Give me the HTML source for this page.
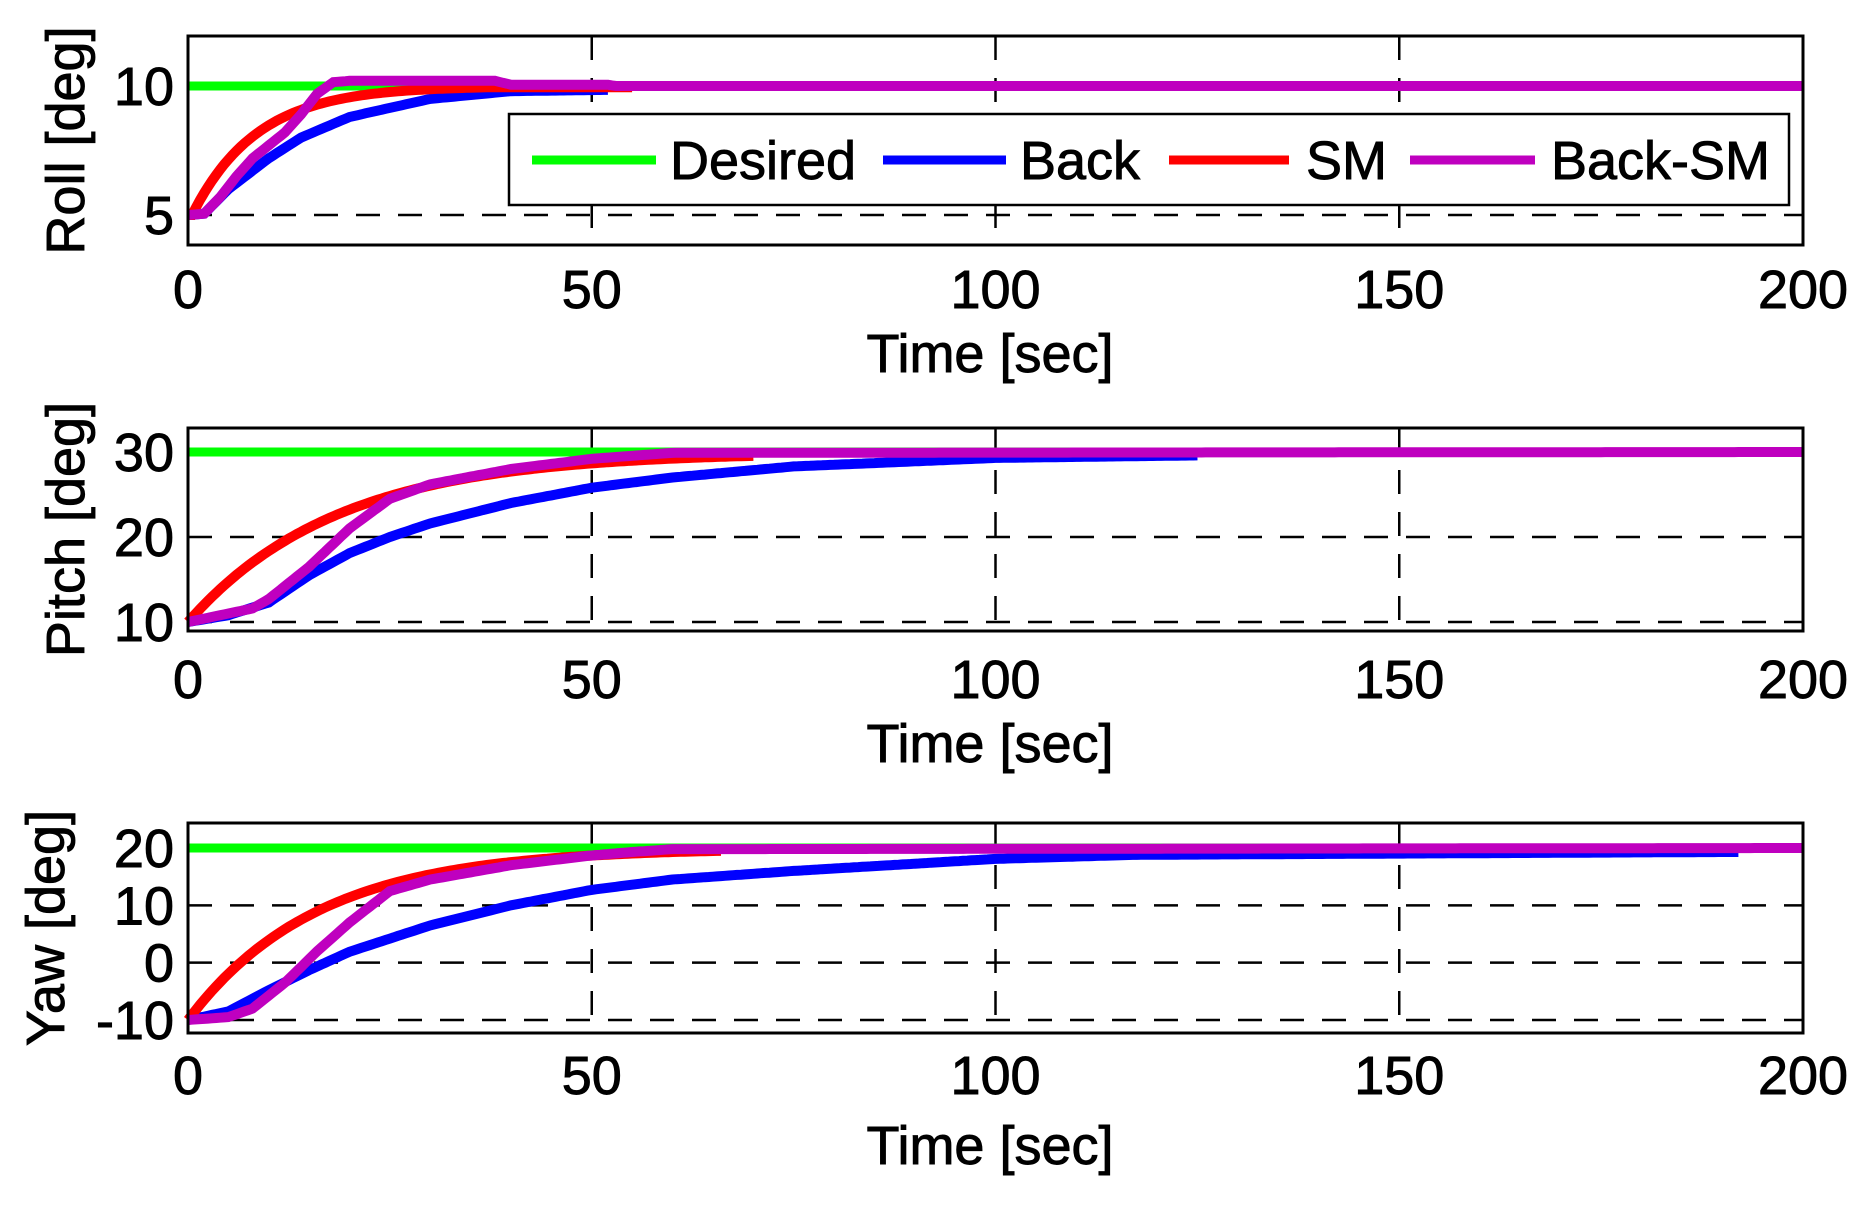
<!DOCTYPE html>
<html><head><meta charset="utf-8"><style>
html,body{margin:0;padding:0;background:#fff;}
svg{display:block;}
text{font-family:"Liberation Sans",Arial,sans-serif;fill:#000;stroke:#000;stroke-width:0.9px;}
</style></head><body>
<svg id="s" width="1866" height="1205" viewBox="0 0 1866 1205" xmlns="http://www.w3.org/2000/svg">
</svg>
<script>
const NS="http://www.w3.org/2000/svg";
const svg=document.getElementById('s');
function el(n,a,t){const e=document.createElementNS(NS,n);for(const k in a)e.setAttribute(k,a[k]);if(t!==undefined)e.textContent=t;svg.appendChild(e);return e;}
const L=188,R=1803;
const X=t=>L+(R-L)*t/200;
function interp(pts,t){for(let i=1;i<pts.length;i++){if(t<=pts[i][0]){const a=pts[i-1],b=pts[i];return a[1]+(b[1]-a[1])*(t-a[0])/(b[0]-a[0]);}}return pts[pts.length-1][1];}
function panel(o){
  const {top,bot,yt,ticks,ylabel,ylx,series,xtickY,xlabY}=o;
  const Y=v=>yt[0][1]+(yt[1][1]-yt[0][1])*(v-yt[0][0])/(yt[1][0]-yt[0][0]);
  ticks.forEach(v=>{const y=Y(v);el('line',{x1:L,x2:R,y1:y,y2:y,stroke:'#000','stroke-width':2.5,'stroke-dasharray':'24 18'});});
  [50,100,150].forEach(t=>el('line',{x1:X(t),x2:X(t),y1:top,y2:bot,stroke:'#000','stroke-width':2.5,'stroke-dasharray':'24 18'}));
  series.forEach(s=>{
    let d='';
    for(let t=0;t<=s.end;t+=0.5){const v=s.f(t);d+=(d?'L':'M')+X(t).toFixed(1)+' '+Y(v).toFixed(1);}
    el('path',{d:d,fill:'none',stroke:s.c,'stroke-width':s.w||10,'stroke-linejoin':'miter'});
  });
  el('rect',{x:L,y:top,width:R-L,height:bot-top,fill:'none',stroke:'#000','stroke-width':3});
  ticks.forEach(v=>el('text',{x:174,y:Y(v)+19,'font-size':54,'text-anchor':'end'},String(v)));
  [0,50,100,150,200].forEach(t=>el('text',{x:X(t),y:xtickY,'font-size':54,'text-anchor':'middle'},String(t)));
  el('text',{x:990,y:xlabY,'font-size':54,'text-anchor':'middle'},'Time [sec]');
  const cy=(top+bot)/2;
  el('text',{x:0,y:0,'font-size':54,'text-anchor':'middle',transform:`translate(${ylx},${cy}) rotate(-90)`},ylabel);
}
const ex=(a,b,tau,d)=>t=>t<(d||0)?a:b-(b-a)*Math.exp(-(t-(d||0))/tau);
panel({top:36,bot:245,yt:[[5,215],[10,86]],ticks:[5,10],ylabel:'Roll [deg]',ylx:84,xtickY:308,xlabY:372,
series:[
 {c:'#00ff00',w:9,end:200,f:t=>10},
 {c:'#0000ff',end:52,f:t=>interp([[0,5],[2,5.05],[5,6],[10,7.2],[14,8],[20,8.8],[30,9.5],[40,9.8],[52,9.85]],t)},
 {c:'#ff0000',end:55,f:t=>Math.min(9.95,ex(5,10,8,0.5)(t))},
 {c:'#bf00bf',end:200,f:t=>interp([[0,5],[2,5.05],[4,5.7],[6,6.5],[8,7.2],[10,7.7],[12,8.2],[14,8.9],[16,9.7],[18,10.15],[20,10.2],[38,10.2],[40,10.05],[52,10.05],[53,10],[200,10]],t)}
]});
panel({top:428,bot:631,yt:[[10,622],[30,452]],ticks:[10,20,30],ylabel:'Pitch [deg]',ylx:84,xtickY:698,xlabY:762,
series:[
 {c:'#00ff00',w:9,end:200,f:t=>30},
 {c:'#0000ff',end:125,f:t=>interp([[0,10],[5,10.8],[10,12.3],[15,15.5],[20,18.1],[25,20],[30,21.6],[40,24],[50,25.8],[60,27],[75,28.3],[100,29.3],[125,29.6]],t)},
 {c:'#ff0000',end:70,f:t=>Math.min(29.8,ex(10,30,18.5)(t))},
 {c:'#bf00bf',end:200,f:t=>interp([[0,10],[5,11],[8,11.6],[10,12.7],[15,16.5],[20,21],[25,24.5],[30,26.2],[40,28],[50,29.2],[60,29.9],[200,30]],t)}
]});
panel({top:823,bot:1033,yt:[[-10,1020],[20,848]],ticks:[-10,0,10,20],ylabel:'Yaw [deg]',ylx:64,xtickY:1094,xlabY:1164,
series:[
 {c:'#00ff00',w:9,end:200,f:t=>20},
 {c:'#0000ff',end:192,f:t=>interp([[0,-10],[5,-8.5],[10,-4.8],[15,-1.3],[20,1.9],[30,6.5],[40,10],[50,12.7],[60,14.5],[75,16],[100,18.1],[117,18.8],[190,19.3],[192,19.3]],t)},
 {c:'#ff0000',end:66,f:t=>Math.min(19.5,ex(-10,20,16)(t))},
 {c:'#bf00bf',end:200,f:t=>interp([[0,-10],[5,-9.5],[8,-8],[12,-3.5],[16,2],[20,7],[25,12.5],[30,14.5],[40,17],[50,18.7],[55,19.3],[60,19.8],[200,20]],t)}
]});
el('rect',{x:509,y:114,width:1280,height:91,fill:'#fff',stroke:'#000','stroke-width':2.5});
const leg=[['#00ff00',532,656,670,'Desired'],['#0000ff',883,1006,1020,'Back'],['#ff0000',1169,1289,1306,'SM'],['#bf00bf',1410,1535,1551,'Back-SM']];
leg.forEach(l=>{el('line',{x1:l[1],x2:l[2],y1:160,y2:160,stroke:l[0],'stroke-width':9});el('text',{x:l[3],y:179,'font-size':54},l[4]);});
</script>
</body></html>
